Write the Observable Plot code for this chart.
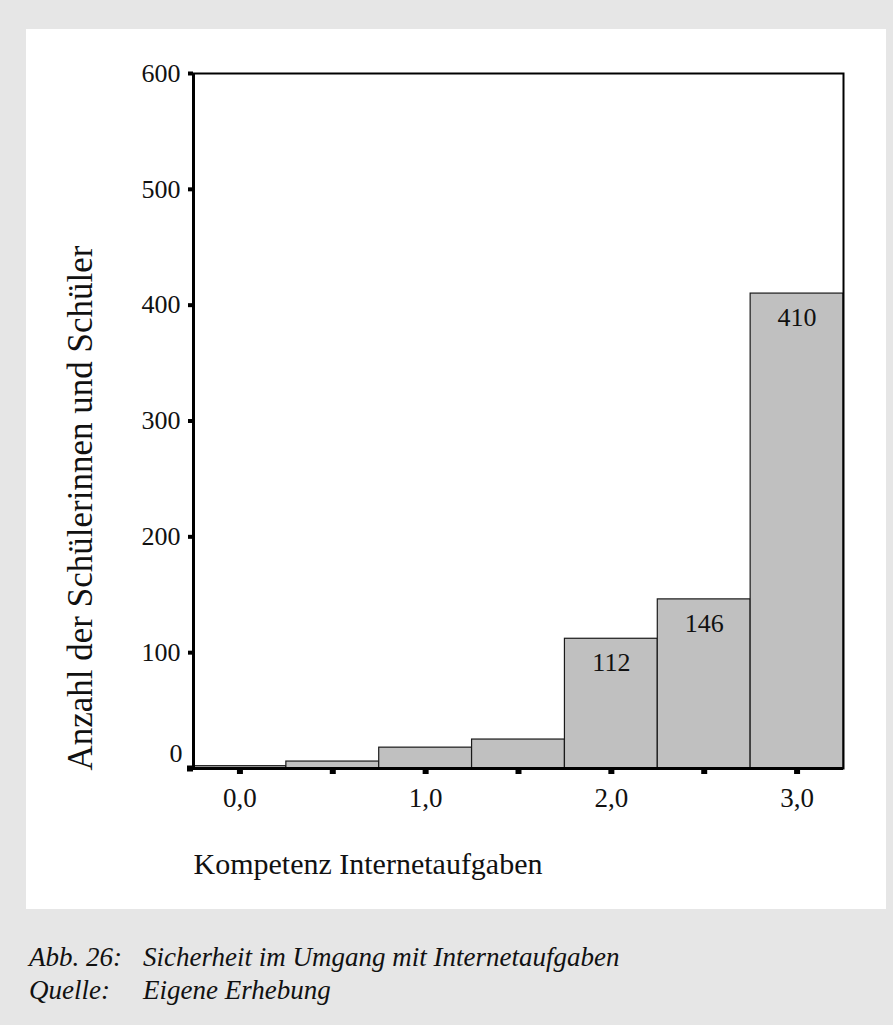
<!DOCTYPE html>
<html><head><meta charset="utf-8">
<script src="https://cdn.jsdelivr.net/npm/d3@7"></script>
<script src="https://cdn.jsdelivr.net/npm/@observablehq/plot@0.6"></script>
<style>
html,body{margin:0;padding:0;background:#e6e6e6;width:893px;height:1025px;overflow:hidden;}
#panel{position:absolute;left:26px;top:29px;width:860px;height:880px;background:#fff;}
#chart{position:absolute;left:0;top:0;}
.cap{position:absolute;font-family:"Liberation Serif","Times New Roman",serif;font-style:italic;font-size:27px;line-height:27px;color:#111;white-space:nowrap;}
</style></head><body>
<div id="panel"></div>
<div id="chart"></div>
<div class="cap" style="left:29px;top:944px;">Abb. 26:</div>
<div class="cap" style="left:143px;top:944px;">Sicherheit im Umgang mit Internetaufgaben</div>
<div class="cap" style="left:29px;top:977px;">Quelle:</div>
<div class="cap" style="left:143px;top:977px;">Eigene Erhebung</div>
<script>
// Data
const binCenters = [0, 0.5, 1.0, 1.5, 2.0, 2.5, 3.0];
const counts = [2, 6, 18, 25, 112, 146, 410];
const binWidth = 0.5;
const labelThreshold = 100;
const yTicks = [0, 100, 200, 300, 400, 500, 600];
const xTicks = [0, 0.5, 1.0, 1.5, 2.0, 2.5, 3.0];
const xLabelTicks = [0, 1, 2, 3];
const xTitle = "Kompetenz Internetaufgaben";
const yTitle = "Anzahl der Schülerinnen und Schüler";

const data = binCenters.map((x, i) => ({x, count: counts[i]}));
const labeled = data.filter(d => d.count >= labelThreshold);
const fmt = d => d.toFixed(1).replace(".", ",");
const font = "Liberation Serif, Times New Roman, serif";

const chart = Plot.plot({
  width: 893,
  height: 909,
  marginLeft: 193,
  marginRight: 50,
  marginTop: 73,
  marginBottom: 141,
  x: {domain: [-binWidth / 2, 3 + binWidth / 2]},
  y: {domain: [0, 600]},
  style: {background: "transparent", fontFamily: font, fontSize: "26px", color: "#111", overflow: "visible"},
  marks: [
    Plot.rectY(data, {x1: d => d.x - binWidth / 2, x2: d => d.x + binWidth / 2, y1: 0, y2: "count", fill: "#c0c0c0", stroke: "#1a1a1a", strokeWidth: 1.2}),
    Plot.frame({stroke: "#000", strokeWidth: 2}),
    Plot.ruleX([-binWidth / 2], {stroke: "#000", strokeWidth: 3}),
    Plot.ruleY([0], {stroke: "#000", strokeWidth: 3}),
    Plot.axisY(yTicks.filter(d => d !== 0), {tickSize: 5, strokeWidth: 4, stroke: "#000", tickPadding: 8, fontSize: 26, fontFamily: font, label: null}),
    Plot.axisY([0], {tickSize: 6, strokeWidth: 6, stroke: "#000", tickPadding: 0, tickFormat: () => "", label: null}),
    Plot.text([0], {y: d => d, frameAnchor: "left", text: d => String(d), textAnchor: "end", dx: -11, dy: -15, fontSize: 26, fontFamily: font}),
    Plot.axisX(xTicks, {tickSize: 6, strokeWidth: 6, stroke: "#000", tickFormat: () => "", label: null}),
    Plot.axisX(xLabelTicks, {tickSize: 0, tickPadding: 19, tickFormat: fmt, fontSize: 27, fontFamily: font, label: null}),
    Plot.text(labeled, {x: "x", y: "count", text: d => String(d.count), dy: 24, fontSize: 26, fontFamily: font}),
    Plot.text([xTitle], {frameAnchor: "bottom-left", textAnchor: "start", dy: 105, fontSize: 30, fontFamily: font}),
    Plot.text([yTitle], {frameAnchor: "bottom-left", textAnchor: "start", rotate: -90, dx: -102, dy: 2, fontSize: 35, fontFamily: font})
  ]
});
document.getElementById("chart").appendChild(chart);
</script>
</body></html>
